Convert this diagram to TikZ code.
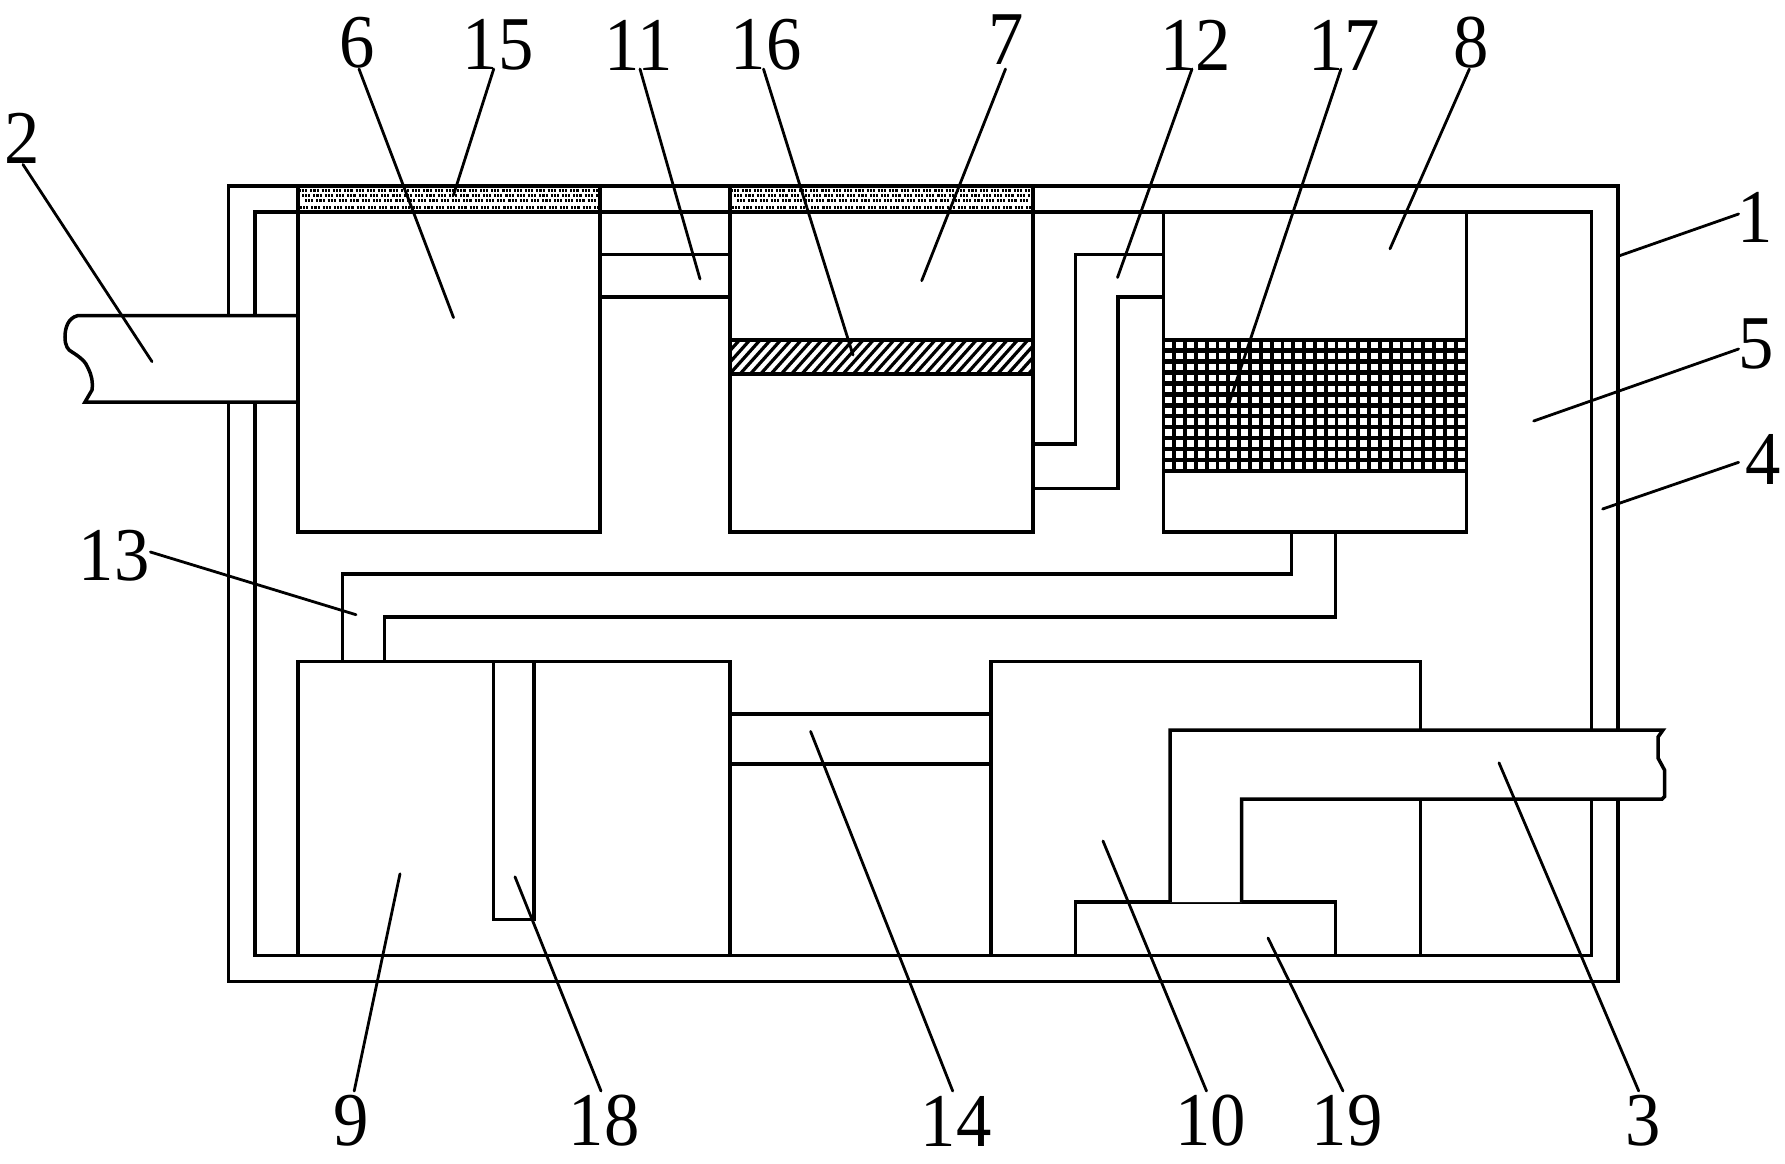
\documentclass[tikz,border=0pt]{standalone}
\usepackage{fontspec}
\setmainfont{Liberation Serif}
\tikzset{
  wall/.style={draw=black,line width=3.5pt,line cap=butt,line join=miter},
  leaderline/.style={draw=black,line width=2.8pt,line cap=round},
  numlabel/.style={inner sep=0pt,font=\fontsize{76}{80}\selectfont},
  dotrow/.style={draw=black,line width=3pt,dash pattern=on 2.1pt off 1pt on 2.1pt off 1pt on 2.1pt off 3pt},
  hatchline/.style={draw=black,line width=3.2pt},
  meshh/.style={draw=black,line width=4.4pt},
  meshv/.style={draw=black,line width=3.8pt}
}
\newcommand{\leaderlabel}[5]{%
  \node[numlabel] (l#1) at (#3) {\scalebox{0.93}[1]{#2}};
  \coordinate (s#1) at (#4);
  \coordinate (e#1) at (#5);
  \draw[leaderline] (s#1) -- (e#1);
}
\newcommand{\dotband}[2]{%
  \begin{scope}
    \clip (#1,187.5) rectangle (#2,210.5);
    \foreach \yy/\off in {190/0,195/3,200/6,207/1}{
      \draw[dotrow] ({#1+1+\off},\yy) -- (#2,\yy);
    }
  \end{scope}
}
\begin{document}
\begin{tikzpicture}[x=1pt,y=-1pt]
\useasboundingbox (0,0) rectangle (1785,1163);
\fill[white] (0,0) rectangle (1785,1163);

% dotted bands 15
\dotband{298}{600}
\dotband{730}{1033}

% housing 1 and lining 4
\draw[wall] (228.5,186) rectangle (1618,981.7);
\draw[wall] (255,212) rectangle (1591.7,955.6);

% tanks 6, 7, 8
\draw[wall] (298,186) -- (298,532) -- (600,532) -- (600,186);
\draw[wall] (730,186) -- (730,532) -- (1033,532) -- (1033,186);
\draw[wall] (1163.3,212) -- (1163.3,532) -- (1466.5,532) -- (1466.5,212);

% pipe 11
\draw[wall] (600,254.5) -- (730,254.5);
\draw[wall] (600,297) -- (730,297);

% pipe 12
\draw[wall] (1033,444) -- (1075.6,444) -- (1075.6,254.5) -- (1163.3,254.5);
\draw[wall] (1033,488.7) -- (1118,488.7) -- (1118,297) -- (1163.3,297);

% layer 16
\begin{scope}
  \clip (730,340) rectangle (1033,374);
  \foreach \i in {0,...,34}{
    \draw[hatchline] ({697+\i*10.3},376) -- ({731+\i*10.3},338);
  }
\end{scope}
\draw[wall,line width=4.4pt] (730,340) -- (1033,340);
\draw[wall,line width=4.4pt] (730,374) -- (1033,374);

% mesh 17
\begin{scope}
  \clip (1163,338) rectangle (1466.7,472);
  \foreach \i in {0,...,12}{
    \draw[meshh] (1163,{339.6+\i*10.95}) -- (1467,{339.6+\i*10.95});
  }
  \foreach \j in {0,...,28}{
    \draw[meshv] ({1163.3+\j*10.83},338) -- ({1163.3+\j*10.83},472);
  }
\end{scope}

% pipe 13
\draw[wall] (1291.4,532) -- (1291.4,574) -- (342.7,574) -- (342.7,661.7);
\draw[wall] (1335.6,532) -- (1335.6,617) -- (384.6,617) -- (384.6,661.7);

% tank 9 with tube 18
\draw[wall] (298,955.6) -- (298,661.7) -- (730,661.7) -- (730,955.6);
\draw[wall] (493.7,661.7) -- (493.7,919.7) -- (533.9,919.7) -- (533.9,661.7);

% pipe 14
\draw[wall] (730,714) -- (991,714);
\draw[wall] (730,764) -- (991,764);

% tank 10
\draw[wall] (991,955.6) -- (991,661.7) -- (1420.6,661.7) -- (1420.6,955.6);

% pump 19
\draw[wall] (1075.6,955.6) -- (1075.6,902) -- (1335.6,902) -- (1335.6,955.6);

% inlet pipe 2
\fill[white] (77.5,315.7) .. controls (68,318) and (65,328) .. (65,337)
  .. controls (65,346) and (68,350) .. (72,352)
  .. controls (80,357) and (86,362) .. (88,368)
  .. controls (92,376) and (93,382) .. (92,390)
  -- (85,402) -- (298,402) -- (298,315.7) -- cycle;
\draw[wall] (298,315.7) -- (77.5,315.7) .. controls (68,318) and (65,328) .. (65,337)
  .. controls (65,346) and (68,350) .. (72,352)
  .. controls (80,357) and (86,362) .. (88,368)
  .. controls (92,376) and (93,382) .. (92,390)
  -- (85,402) -- (298,402);
\draw[wall] (298,186) -- (298,532);

% outlet pipe 3
\fill[white] (1170,902) -- (1170,730) -- (1663,730) -- (1658,737) -- (1658,758)
  -- (1664.5,770) -- (1664.5,796.5) -- (1662,799) -- (1241.5,799) -- (1241.5,902) -- cycle;
\draw[wall] (1170,902) -- (1170,730) -- (1663,730) -- (1658,737) -- (1658,758)
  -- (1664.5,770) -- (1664.5,796.5) -- (1662,799) -- (1241.5,799) -- (1241.5,902);

% labels and leaders
\leaderlabel{1}{1}{1754.7,217.5}{1738.6,214}{1619.8,255.6}
\leaderlabel{2}{2}{21.8,138.7}{23,164.5}{152,361.6}
\leaderlabel{3}{3}{1643,1121}{1638.7,1091}{1499,762.8}
\leaderlabel{4}{4}{1762.7,459}{1738.6,462.3}{1602.6,509}
\leaderlabel{5}{5}{1756,344.4}{1738.6,349}{1533.7,421}
\leaderlabel{6}{6}{357,43}{359,69}{453.5,317.6}
\leaderlabel{7}{7}{1006,40}{1005.5,69}{921.7,280.7}
\leaderlabel{8}{8}{1471,43}{1469.4,69}{1390,248.8}
\leaderlabel{9}{9}{350.7,1121}{354.2,1091}{400,873.8}
\leaderlabel{10}{10}{1210.5,1121}{1206.5,1091}{1103,841}
\leaderlabel{11}{11}{638.5,45}{640,69}{700,279}
\leaderlabel{12}{12}{1195.6,45}{1192,69}{1117.5,277.5}
\leaderlabel{13}{13}{114,556}{150.4,552}{356,614.7}
\leaderlabel{14}{14}{956,1121}{952.7,1091}{810.6,731.4}
\leaderlabel{15}{15}{498,45}{493.7,69}{453.5,195}
\leaderlabel{16}{16}{766,45}{763.5,69}{853,355}
\leaderlabel{17}{17}{1344,45}{1341,69}{1229.4,402}
\leaderlabel{18}{18}{604,1121}{601,1091}{515,876.8}
\leaderlabel{19}{19}{1347,1121}{1343,1091}{1268,938}
\end{tikzpicture}
\end{document}
